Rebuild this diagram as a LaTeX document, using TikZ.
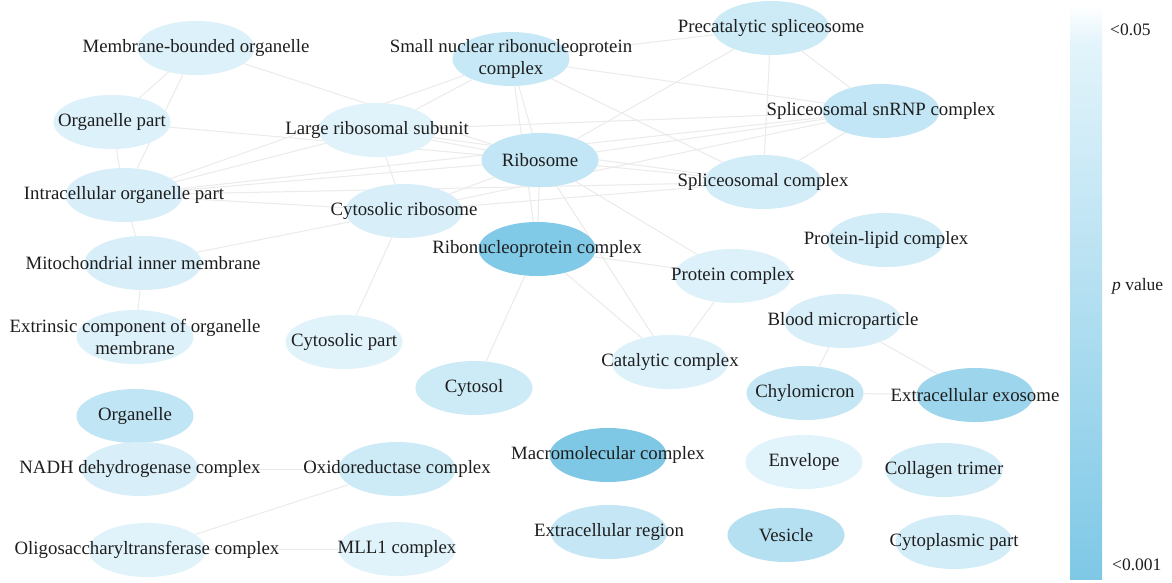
\documentclass[tikz,border=0pt]{standalone}
\usepackage{fontspec}
\setmainfont{Liberation Serif}
\usetikzlibrary{shapes.geometric}
\pgfdeclarelayer{back}
\pgfdeclarelayer{bg}
\pgfsetlayers{back,bg,main}
\definecolor{edgec}{HTML}{EBEBEB}
\definecolor{txt}{HTML}{1E1E1E}
\definecolor{cA}{HTML}{DDF1FA}
\definecolor{cB}{HTML}{D8EFF9}
\definecolor{cC}{HTML}{C7E8F6}
\definecolor{cD}{HTML}{CDEBF7}
\definecolor{cE}{HTML}{C2E6F5}
\definecolor{cF}{HTML}{D3EDF8}
\definecolor{cG}{HTML}{80C9E7}
\definecolor{cH}{HTML}{E0F3FA}
\definecolor{cI}{HTML}{9DD5EC}
\definecolor{cJ}{HTML}{C0E5F5}
\definecolor{cK}{HTML}{7EC8E6}
\definecolor{cL}{HTML}{E2F4FB}
\definecolor{cM}{HTML}{B5E0F2}
\definecolor{cN}{HTML}{C5E7F5}
\definecolor{cbtop}{HTML}{E3F4FB}
\definecolor{cbbot}{HTML}{7EC8E6}
\begin{document}
\begin{tikzpicture}[x=1pt,y=-1pt,
  go/.style={ellipse, minimum width=117pt, minimum height=54pt, inner sep=0pt, draw=none},
  lbl/.style={font=\fontsize{18.8}{22.5}\selectfont, text=txt, align=center, inner sep=0pt},
  legtxt/.style={font=\fontsize{17.5}{20}\selectfont, text=txt, inner sep=0pt, anchor=west},
  edge/.style={draw=edgec, line width=1pt}]
\useasboundingbox (0,0) rectangle (1172,582);
\begin{pgfonlayer}{back}
\fill[white] (0,0) rectangle (1172,582);
\end{pgfonlayer}

\node[go, fill=cA, label={[lbl]center:Membrane-bounded organelle}] (mbo) at (196,48) {};
\node[go, fill=cA, label={[lbl]center:Organelle part}] (op) at (112,122) {};
\node[go, fill=cB, label={[lbl]center:Intracellular organelle part}] (iop) at (124,195) {};
\node[go, fill=cH, label={[lbl]center:Large ribosomal subunit}] (lrs) at (377,130) {};
\node[go, fill=cC, label={[lbl]center:{Small nuclear ribonucleoprotein\\complex}}] (sn) at (511,59) {};
\node[go, fill=cD, label={[lbl]center:Precatalytic spliceosome}] (pre) at (771,28) {};
\node[go, fill=cE, label={[lbl]center:Spliceosomal snRNP complex}] (snrnp) at (881,111) {};
\node[go, fill=cE, label={[lbl]center:Ribosome}] (ribo) at (540,160) {};
\node[go, fill=cF, label={[lbl]center:Spliceosomal complex}] (spc) at (763,182) {};
\node[go, fill=cB, label={[lbl]center:Cytosolic ribosome}] (crib) at (404,211) {};
\node[go, fill=cG, label={[lbl]center:Ribonucleoprotein complex}] (rnp) at (537,249) {};
\node[go, fill=cB, label={[lbl]center:Mitochondrial inner membrane}] (mim) at (143,263) {};
\node[go, fill=cA, label={[lbl]center:{Extrinsic component of organelle\\membrane}}] (ext) at (135,337) {};
\node[go, fill=cH, label={[lbl]center:Cytosolic part}] (cpart) at (344,342) {};
\node[go, fill=cD, label={[lbl]center:Cytosol}] (cytosol) at (474,388) {};
\node[go, fill=cA, label={[lbl]center:Protein complex}] (pc) at (733,276) {};
\node[go, fill=cA, label={[lbl]center:Catalytic complex}] (cat) at (670,362) {};
\node[go, fill=cF, label={[lbl]center:Protein-lipid complex}] (plc) at (886,240) {};
\node[go, fill=cB, label={[lbl]center:Blood microparticle}] (blood) at (843,321) {};
\node[go, fill=cN, label={[lbl]center:Chylomicron}] (chylo) at (805,393) {};
\node[go, fill=cI, label={[lbl]center:Extracellular exosome}] (exo) at (975,395) {};
\node[go, fill=cJ, label={[lbl]center:Organelle}] (org) at (135,416) {};
\node[go, fill=cB, label={[lbl]center:NADH dehydrogenase complex}] (nadh) at (140,469) {};
\node[go, fill=cD, label={[lbl]center:Oxidoreductase complex}] (oxido) at (397,469) {};
\node[go, fill=cH, label={[lbl]center:Oligosaccharyltransferase complex}] (ost) at (147,550) {};
\node[go, fill=cH, label={[lbl]center:MLL1 complex}] (mll) at (397,549) {};
\node[go, fill=cK, label={[lbl]center:Macromolecular complex}] (macro) at (608,455) {};
\node[go, fill=cL, label={[lbl]center:Envelope}] (env) at (804,462) {};
\node[go, fill=cF, label={[lbl]center:Collagen trimer}] (coll) at (944,470) {};
\node[go, fill=cN, label={[lbl]center:Extracellular region}] (exreg) at (609,532) {};
\node[go, fill=cM, label={[lbl]center:Vesicle}] (ves) at (786,535) {};
\node[go, fill=cF, label={[lbl]center:Cytoplasmic part}] (cyto) at (954,542) {};

\begin{pgfonlayer}{bg}
\foreach \a/\b in {mbo/op, mbo/iop, mbo/ribo, op/iop, op/ribo,
  iop/lrs, iop/ribo, iop/snrnp, iop/spc, iop/crib, iop/mim, iop/sn,
  mim/ext, mim/crib,
  lrs/sn, lrs/ribo, lrs/crib, lrs/snrnp, lrs/spc,
  sn/pre, sn/snrnp, sn/spc, sn/ribo, sn/rnp,
  pre/snrnp, pre/spc, pre/ribo,
  snrnp/spc, snrnp/ribo, snrnp/crib,
  ribo/spc, ribo/crib, ribo/rnp, ribo/pc, ribo/cat,
  crib/spc, crib/cpart,
  rnp/cytosol, rnp/pc, rnp/cat, pc/cat,
  blood/chylo, blood/exo, chylo/exo,
  nadh/oxido, oxido/ost, ost/mll}
  \draw[edge] (\a) -- (\b);
\end{pgfonlayer}

% colour bar
\shade[top color=white, bottom color=cbtop] (1070,6) rectangle (1102,42);
\shade[top color=cbtop, bottom color=cbbot] (1070,41.5) rectangle (1102,579);
\node[legtxt] (lhi) at (1110,30) {<0.05};
\node[legtxt] (lmid) at (1112,286) {\textit{p} value};
\node[legtxt] (llo) at (1112,565) {<0.001};
\end{tikzpicture}
\end{document}
